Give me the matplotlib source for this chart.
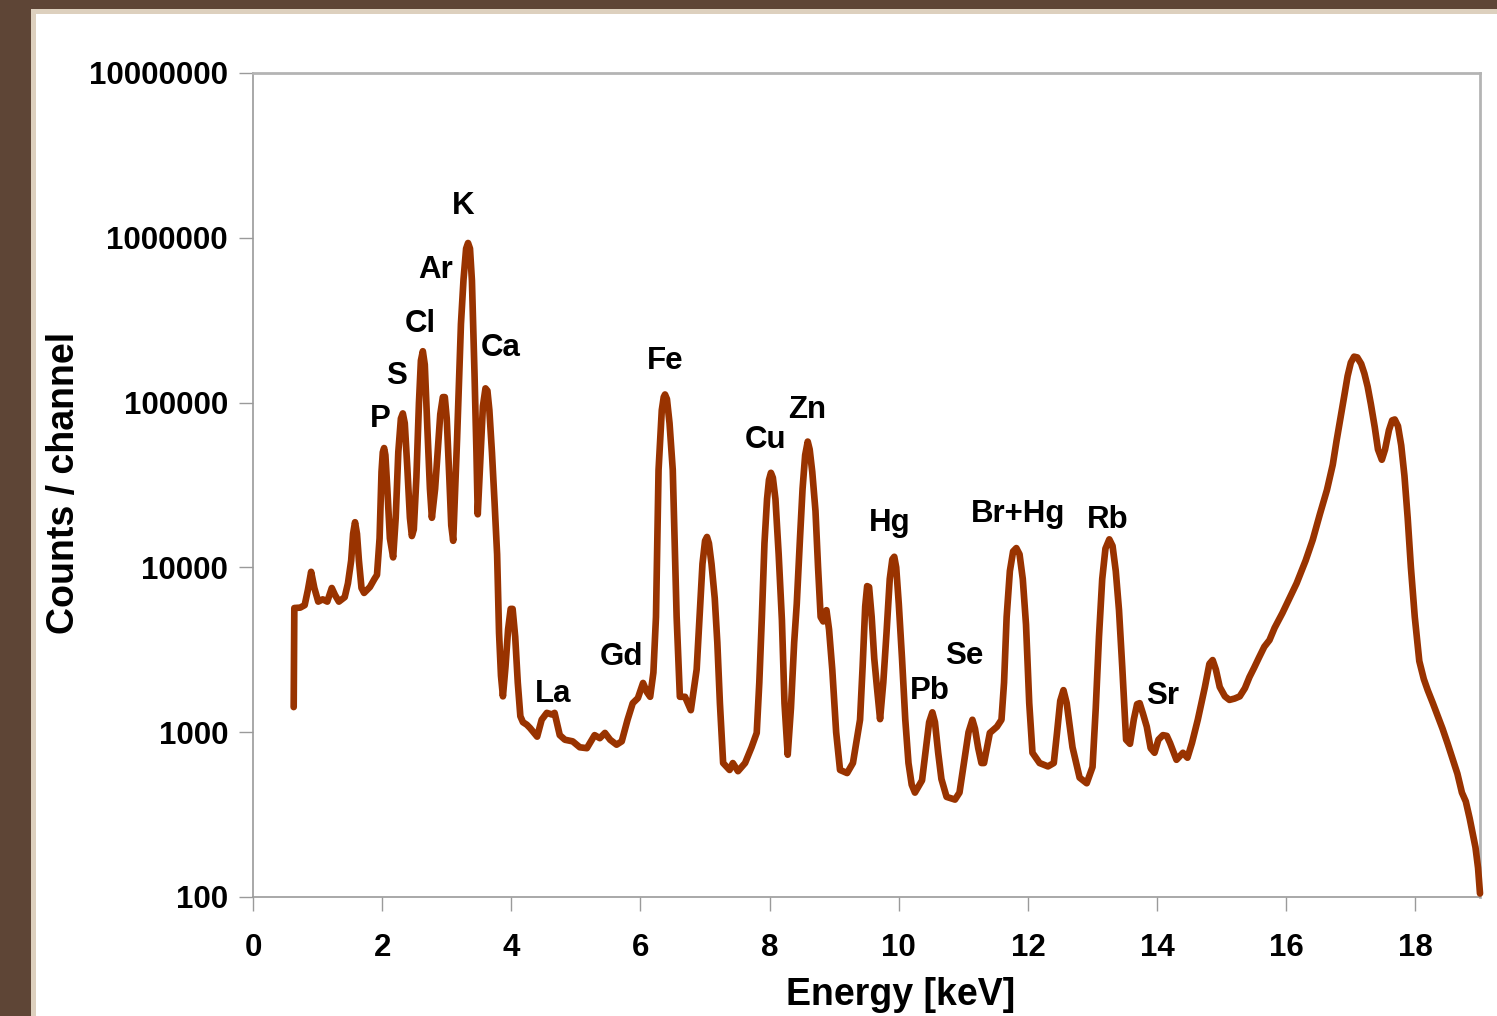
import matplotlib
matplotlib.use("Agg")
import matplotlib.pyplot as plt
from matplotlib.patches import Rectangle
from matplotlib.ticker import FixedLocator, NullLocator, FuncFormatter

# ---------------- data ----------------
energy_keV = [
    0.63, 0.64, 0.73, 0.80, 0.85, 0.90, 0.95, 1.01, 1.08, 1.15, 1.22, 1.27, 1.33, 1.42,
    1.47, 1.52, 1.55, 1.58, 1.61, 1.64, 1.68, 1.72, 1.81, 1.88,
    1.92, 1.96, 1.99, 2.01, 2.03, 2.05, 2.08, 2.12, 2.17,
    2.21, 2.25, 2.29, 2.32, 2.35, 2.39, 2.43, 2.46, 2.49,
    2.53, 2.57, 2.60, 2.63, 2.66, 2.70, 2.74, 2.77, 2.82,
    2.86, 2.90, 2.94, 2.97, 3.00, 3.04, 3.07, 3.10,
    3.16, 3.22, 3.26, 3.30, 3.33, 3.36, 3.39, 3.43, 3.46, 3.48,
    3.52, 3.56, 3.60, 3.63, 3.66, 3.70, 3.74, 3.78, 3.81, 3.84, 3.87,
    3.91, 3.95, 3.99, 4.02, 4.06, 4.10, 4.14, 4.18, 4.24, 4.29, 4.40, 4.47, 4.55, 4.63, 4.67,
    4.75, 4.83, 4.95, 5.06, 5.17, 5.29, 5.37, 5.45, 5.53, 5.63, 5.71, 5.80, 5.88, 5.96,
    6.04, 6.10, 6.15,
    6.20, 6.24, 6.28, 6.33, 6.36, 6.38, 6.41, 6.45, 6.50, 6.56, 6.61, 6.69, 6.78, 6.87,
    6.92, 6.96, 7.00, 7.03, 7.06, 7.10, 7.15, 7.19, 7.23, 7.28, 7.38, 7.43, 7.51, 7.62, 7.72, 7.80,
    7.84, 7.88, 7.92, 7.96, 7.99, 8.02, 8.05, 8.09, 8.14, 8.19, 8.23, 8.28,
    8.33, 8.38, 8.42, 8.47, 8.51, 8.55, 8.59, 8.62, 8.66, 8.71, 8.75, 8.79, 8.83, 8.88,
    8.92, 8.97, 9.03, 9.09, 9.20, 9.29, 9.40,
    9.44, 9.48, 9.51, 9.54, 9.58, 9.62, 9.66, 9.71,
    9.76, 9.81, 9.86, 9.90, 9.93, 9.96, 10.00, 10.05, 10.10, 10.15, 10.20, 10.25, 10.36,
    10.42, 10.47, 10.52, 10.56, 10.61, 10.66, 10.74, 10.87, 10.94,
    11.02, 11.08, 11.14, 11.18, 11.23, 11.28, 11.32, 11.41, 11.52, 11.59,
    11.63, 11.67, 11.72, 11.77, 11.82, 11.87, 11.92, 11.97, 12.02, 12.07, 12.18, 12.31,
    12.40, 12.45, 12.50, 12.55, 12.60, 12.69, 12.80, 12.91, 13.00,
    13.05, 13.10, 13.15, 13.20, 13.26, 13.31, 13.36, 13.41, 13.46, 13.52,
    13.58, 13.64, 13.69, 13.73, 13.78, 13.84, 13.90, 13.96, 14.02, 14.09, 14.15, 14.20, 14.30,
    14.40, 14.47, 14.54, 14.63, 14.74, 14.81, 14.86, 14.91, 14.97, 15.05, 15.12, 15.20,
    15.28, 15.36, 15.43, 15.50, 15.58, 15.66, 15.74, 15.82, 15.94, 16.05, 16.16, 16.30,
    16.41, 16.52, 16.63, 16.72, 16.78, 16.85, 16.90, 16.95, 17.00, 17.05, 17.10, 17.16,
    17.21, 17.26, 17.31, 17.37, 17.42, 17.48, 17.53, 17.59, 17.64, 17.68, 17.73, 17.78,
    17.83, 17.88, 17.93, 17.99, 18.06, 18.13, 18.19, 18.27, 18.34, 18.42, 18.50, 18.57,
    18.65, 18.72, 18.78, 18.84, 18.89, 18.93, 18.97, 19.00,
]

counts_per_channel = [
    1420, 5670, 5700, 5900, 7300, 9400, 7500, 6200, 6400, 6200, 7500, 6800, 6200, 6600,
    8000, 11000, 16000, 18800, 16000, 11000, 7500, 7000, 7600, 8500,
    9000, 15000, 38000, 50000, 53000, 48000, 30000, 15000, 11500,
    20000, 50000, 80000, 86000, 75000, 40000, 20000, 15500, 17000,
    35000, 100000, 180000, 205000, 170000, 70000, 30000, 20000, 30000,
    50000, 85000, 108000, 108000, 80000, 35000, 18000, 14500,
    60000, 300000, 560000, 860000, 930000, 860000, 550000, 150000, 50000, 21000,
    45000, 95000, 122000, 118000, 90000, 50000, 25000, 12000, 4000, 2200, 1650,
    2500, 4200, 5600, 5600, 3800, 2000, 1250, 1150, 1110, 1060, 940, 1190, 1310, 1280, 1310,
    960, 900, 880, 810, 800, 960, 920, 990, 900, 840, 880, 1190, 1500, 1610,
    1990, 1750, 1640,
    2300, 5000, 39000, 90000, 108000, 112000, 105000, 75000, 39000, 5000, 1640, 1640, 1360, 2400,
    5500, 10500, 14500, 15300, 14000, 10500, 6500, 3500, 1500, 650, 590, 650, 580, 650, 810, 990,
    2000, 5000, 14000, 26000, 34000, 37500, 35000, 26000, 12000, 4800, 1500, 730,
    1400, 3500, 6000, 15000, 30000, 48000, 58000, 52000, 38000, 22000, 10000, 5000, 4700, 5500,
    4200, 2400, 1000, 590, 565, 650, 1190,
    2500, 5800, 7700, 7600, 5000, 2800, 1900, 1200,
    2000, 4000, 8500, 11200, 11600, 10000, 6000, 2800, 1200, 650, 480, 430, 510,
    800, 1150, 1320, 1150, 750, 520, 405, 390, 430,
    700, 1000, 1190, 1050, 800, 650, 650, 990, 1080, 1190,
    2000, 5000, 9500, 12500, 13100, 12000, 8500, 4500, 1500, 750, 650, 620,
    650, 990, 1550, 1800, 1500, 810, 530, 490, 615,
    1400, 3800, 8500, 13000, 14800, 13500, 9500, 5500, 2500, 900,
    850, 1200, 1480, 1500, 1300, 1080, 800, 750, 900, 960, 950, 860, 680,
    750, 700, 860, 1190, 1880, 2600, 2740, 2400, 1880, 1650, 1570, 1600,
    1650, 1850, 2160, 2450, 2850, 3300, 3620, 4300, 5280, 6500, 8000, 11000,
    14700, 21000, 29500, 42000, 59000, 85000, 111000, 145000, 175000, 190000, 188000, 172000,
    150000, 125000, 98000, 71000, 52000, 45000, 52000, 68000, 78000, 79000, 72000, 55000,
    36000, 20000, 10000, 5000, 2700, 2100, 1800, 1500, 1270, 1050, 850, 700,
    560, 430, 380, 300, 240, 200, 150, 105,
]

peak_labels = ["P", "S", "Cl", "Ar", "K", "Ca", "La", "Gd", "Fe", "Cu", "Zn",
               "Hg", "Pb", "Se", "Br+Hg", "Rb", "Sr"]
label_energy = [1.97, 2.23, 2.59, 2.82, 3.25, 3.84, 4.64, 5.71, 6.38, 7.94, 8.58,
                9.86, 10.48, 11.02, 11.84, 13.24, 14.09]
label_counts = [79400, 145000, 300000, 638000, 1560000, 214000, 1710, 2860, 179000,
                59300, 90200, 18600, 1780, 2900, 21100, 19400, 1660]

x_ticks = [0, 2, 4, 6, 8, 10, 12, 14, 16, 18]
y_ticks = [100, 1000, 10000, 100000, 1000000, 10000000]

# ---------------- figure ----------------
FONT = ["Liberation Sans", "DejaVu Sans"]
plt.rcParams["font.family"] = FONT

W, H = 1497, 1016
fig = plt.figure(figsize=(W / 100, H / 100), dpi=100)
fig.patch.set_facecolor("white")

# slide frame (brown + beige strips on left and top)
brown = "#5E4536"
beige = "#DDD0BE"
fig.patches.append(Rectangle((0, 0), 31 / W, 1, transform=fig.transFigure,
                             facecolor=brown, edgecolor="none", zorder=0))
fig.patches.append(Rectangle((31 / W, 0), 5 / W, 1 - 9 / H, transform=fig.transFigure,
                             facecolor=beige, edgecolor="none", zorder=0))
fig.patches.append(Rectangle((0, 1 - 9 / H), 1, 9 / H, transform=fig.transFigure,
                             facecolor=brown, edgecolor="none", zorder=0))
fig.patches.append(Rectangle((31 / W, 1 - 14 / H), 1, 5 / H, transform=fig.transFigure,
                             facecolor=beige, edgecolor="none", zorder=0))

ax = fig.add_axes([253 / W, 1 - 897 / H, (1480 - 253) / W, (897 - 73) / H])
ax.set_facecolor("white")

ax.plot(energy_keV, counts_per_channel, color="#993300", lw=4.8,
        solid_joinstyle="round", solid_capstyle="round", clip_on=False, zorder=3)

ax.set_yscale("log")
ax.set_xlim(0, 19)
ax.set_ylim(100, 10000000)

ax.xaxis.set_major_locator(FixedLocator(x_ticks))
ax.yaxis.set_major_locator(FixedLocator(y_ticks))
ax.yaxis.set_minor_locator(NullLocator())
ax.xaxis.set_minor_locator(NullLocator())
ax.yaxis.set_major_formatter(FuncFormatter(lambda v, p: f"{int(round(v))}"))
ax.xaxis.set_major_formatter(FuncFormatter(lambda v, p: f"{int(round(v))}"))

for side in ["left", "bottom"]:
    ax.spines[side].set_color("#9A9A9A")
    ax.spines[side].set_linewidth(1.2)
for side in ["top", "right"]:
    ax.spines[side].set_color("#B4B4B4")
    ax.spines[side].set_linewidth(2.0)

ax.tick_params(axis="both", which="major", direction="out", length=10, width=1.0,
               color="#9A9A9A", labelsize=22.5)
ax.tick_params(axis="y", pad=8)
ax.tick_params(axis="x", pad=16)
for lab in ax.get_xticklabels() + ax.get_yticklabels():
    lab.set_fontweight("bold")

ax.set_xlabel("Energy [keV]", fontsize=27, fontweight="bold")
ax.set_ylabel("Counts / channel", fontsize=27, fontweight="bold")
ax.xaxis.set_label_coords(0.528, -0.119)
ax.xaxis.label.set_va("center")
ax.yaxis.set_label_coords(-0.154, 0.502)
ax.yaxis.label.set_va("center")

for name, ex, cy in zip(peak_labels, label_energy, label_counts):
    ax.text(ex, cy, name, fontsize=22.5, fontweight="bold", ha="center", va="center",
            color="black", zorder=4)

fig.savefig("out.png", dpi=100, facecolor=fig.get_facecolor())
